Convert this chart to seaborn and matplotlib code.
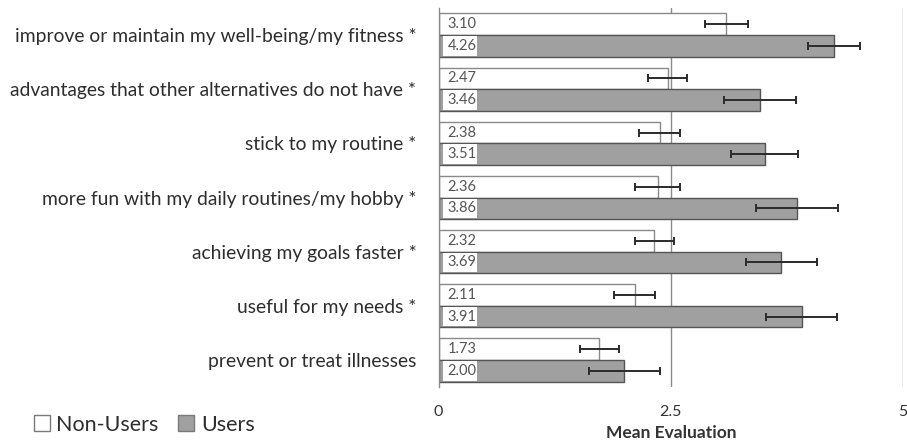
import matplotlib
matplotlib.use("Agg")
import matplotlib.pyplot as plt
from matplotlib.patches import Rectangle
import seaborn as sns
import pandas as pd

categories = [
    "improve or maintain my well-being/my fitness *",
    "advantages that other alternatives do not have *",
    "stick to my routine *",
    "more fun with my daily routines/my hobby *",
    "achieving my goals faster *",
    "useful for my needs *",
    "prevent or treat illnesses",
]
groups = ["Non-Users", "Users"]
non_users = [3.10, 2.47, 2.38, 2.36, 2.32, 2.11, 1.73]
users = [4.26, 3.46, 3.51, 3.86, 3.69, 3.91, 2.00]
non_users_err = [0.23, 0.21, 0.22, 0.24, 0.21, 0.22, 0.21]
users_err = [0.28, 0.39, 0.36, 0.44, 0.38, 0.38, 0.38]
x_ticks = [0, 2.5, 5]
x_tick_labels = ["0", "2.5", "5"]

sns.set_theme(style="white")
plt.rcParams["font.family"] = ["Lato", "DejaVu Sans"]

df = pd.DataFrame({
    "item": categories * 2,
    "group": [groups[0]] * len(categories) + [groups[1]] * len(categories),
    "mean": non_users + users,
    "err": non_users_err + users_err,
})

fig = plt.figure(figsize=(9.07, 4.40), dpi=100)
ax = fig.add_axes([438.5 / 907, 1 - 387 / 440, (903 - 438.5) / 907, (387 - 8) / 440])

palette = {"Non-Users": "#ffffff", "Users": "#a0a0a0"}
sns.barplot(data=df, x="mean", y="item", hue="group", order=categories,
            hue_order=groups, palette=palette, errorbar=None, orient="h",
            width=0.8, legend=False, ax=ax, zorder=2, saturation=1)

edge = {"Non-Users": "#8a8a8a", "Users": "#555555"}
bars = ax.patches[:2 * len(categories)]
for k, g in enumerate(groups):
    sub = df[df.group == g].reset_index(drop=True)
    for i in range(len(categories)):
        bar = bars[k * len(categories) + i]
        bar.set_edgecolor(edge[g])
        bar.set_linewidth(1.0)
        yc = bar.get_y() + bar.get_height() / 2
        ax.errorbar(sub.loc[i, "mean"], yc, xerr=sub.loc[i, "err"], fmt="none",
                    ecolor="#2b2b2b", elinewidth=1.4, capsize=3.2, capthick=1.4,
                    zorder=5)
        if g == "Users":
            ax.add_patch(Rectangle((0.048, bar.get_y() + 0.02), 0.37,
                                   bar.get_height() - 0.04, facecolor="white",
                                   edgecolor="none", zorder=3))
        ax.text(0.10, yc, f"{sub.loc[i, 'mean']:.2f}", va="center", ha="left",
                fontsize=10.5, color="#555555", zorder=4)

ax.set_xlim(0, 5)
ax.set_ylim(len(categories) - 0.5, -0.5)
for xv in [2.5, 5]:
    ax.axvline(xv, color="#8c8c8c", lw=1.0, zorder=1)

for s in ["top", "right", "bottom"]:
    ax.spines[s].set_visible(False)
ax.spines["left"].set_color("#8c8c8c")
ax.spines["left"].set_linewidth(1.0)

ax.set_xticks(x_ticks)
ax.set_xticklabels(x_tick_labels, fontsize=11.5, color="#333333")
ax.tick_params(axis="x", length=0, pad=13)
ax.tick_params(axis="y", length=0, pad=16, labelsize=13.9, labelcolor="#2e2e2e")
ax.set_ylabel("")
ax.set_xlabel("Mean Evaluation", fontsize=12.5, fontweight="bold", color="#333333",
              labelpad=4)

handles = [Rectangle((0, 0), 1, 1, facecolor=palette[g], edgecolor="#7a7a7a", lw=1.0)
           for g in groups]
fig.legend(handles, groups, loc="lower left", bbox_to_anchor=(0.016, -0.032),
           ncol=2, frameon=False, fontsize=15.5, handlelength=0.75, handleheight=0.75,
           handletextpad=0.3, columnspacing=0.9, labelcolor="#2e2e2e")

fig.savefig("out.png", dpi=100)
